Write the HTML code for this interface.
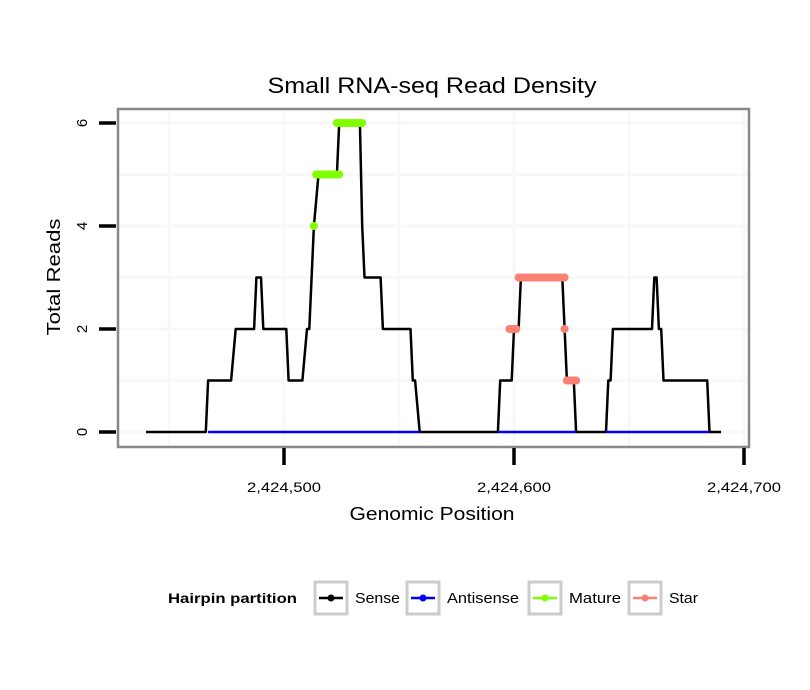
<!DOCTYPE html>
<html><head><meta charset="utf-8"><style>
body{margin:0;background:#fff;}
svg{display:block;font-family:"Liberation Sans",sans-serif;}
</style></head><body>
<svg id="chart" width="810" height="690" viewBox="0 0 810 690">
<rect width="810" height="690" fill="#fff"/>
<text x="432" y="93" text-anchor="middle" font-size="22" textLength="329" lengthAdjust="spacingAndGlyphs">Small RNA-seq Read Density</text>
<g id="grid"></g>
<g id="series"></g>
<rect x="118" y="109" width="631" height="338" fill="none" stroke="#888" stroke-width="2.5"/>
<g id="axes"></g>
<text x="432" y="520" text-anchor="middle" font-size="18" textLength="165" lengthAdjust="spacingAndGlyphs">Genomic Position</text>
<text transform="translate(60,277) rotate(-90)" text-anchor="middle" font-size="18" textLength="117" lengthAdjust="spacingAndGlyphs">Total Reads</text>
<g id="legend">
<text x="168" y="603" font-size="14" font-weight="bold" textLength="129" lengthAdjust="spacingAndGlyphs">Hairpin partition</text>
</g>
</svg>
<script>
const xTicks=[2424500,2424600,2424700];
const xTickLabels=["2,424,500","2,424,600","2,424,700"];
const xMinor=[2424450,2424550,2424650];
const yTicks=[0,2,4,6];
const yMinor=[1,3,5];
const sensePos=[2424440,2424466,2424467,2424477,2424479,2424487,2424488,2424490,2424491,2424501,2424502,2424508,2424510,2424511,2424513,2424515,2424523,2424524,2424533,2424534,2424535,2424542,2424543,2424555,2424556,2424557,2424559,2424593,2424594,2424599,2424600,2424602,2424603,2424621,2424622,2424623,2424626,2424627,2424640,2424641,2424642,2424643,2424660,2424661,2424662,2424663,2424664,2424665,2424684,2424685,2424690];
const senseVal=[0,0,1,1,2,2,3,3,2,2,1,1,2,2,4,5,5,6,6,4,3,3,2,2,1,1,0,0,1,1,2,2,3,3,2,1,1,0,0,1,1,2,2,3,3,2,2,1,1,0,0];
const antisenseStart=[2424467,2424593,2424640];
const antisenseEnd=[2424559,2424627,2424685];
const matureVal=[4,5,6];
const matureStart=[2424513,2424514,2424523];
const matureEnd=[2424513,2424524,2424534];
const starVal=[2,3,2,1];
const starStart=[2424598,2424602,2424622,2424623];
const starEnd=[2424601,2424622,2424622,2424627];
const legendLabels=["Sense","Antisense","Mature","Star"];
const legendColors=["#000","#0000ff","#7fff00","#fa8072"];

const NS="http://www.w3.org/2000/svg";
const X=v=>284+(v-2424500)*2.3;
const Y=v=>432-v*51.5;
function mk(tag,attrs,parent){const e=document.createElementNS(NS,tag);for(const k in attrs)e.setAttribute(k,attrs[k]);parent.appendChild(e);return e;}
const grid=document.getElementById('grid'),series=document.getElementById('series'),axes=document.getElementById('axes'),legend=document.getElementById('legend');
xMinor.concat(xTicks).forEach(v=>{const x=X(v);if(x>118&&x<749){const l=mk('line',{x1:x,x2:x,y1:110,y2:446,stroke:'#f8f8f8','stroke-width':3},grid);

}});
yMinor.concat(yTicks).forEach(v=>{const l=mk('line',{x1:119,x2:748,y1:Y(v),y2:Y(v),stroke:'#f8f8f8','stroke-width':3},grid);

});
let d=sensePos.map((p,i)=>(i?'L':'M')+X(p)+','+Y(senseVal[i])).join('');
const sl=mk('path',{d:d,fill:'none',stroke:'#000','stroke-width':2.5,'stroke-linejoin':'round'},series);


antisenseStart.forEach((s,i)=>{const l=mk('line',{x1:X(s),x2:X(antisenseEnd[i]),y1:Y(0),y2:Y(0),stroke:'#0000ff','stroke-width':2.5},series);

});
function dots(vals,st,en,color,name){vals.forEach((v,i)=>{for(let p=st[i];p<=en[i];p++){const c=mk('circle',{cx:X(p),cy:Y(v),r:4,fill:color},series);

}});}
dots(matureVal,matureStart,matureEnd,'#7fff00','mature-point');
dots(starVal,starStart,starEnd,'#fa8072','star-point');
xTicks.forEach((v,i)=>{const t=mk('line',{x1:X(v),x2:X(v),y1:448,y2:465,stroke:'#000','stroke-width':3.5},axes);


const tx=mk('text',{x:X(v),y:492,'text-anchor':'middle','font-size':14,textLength:74,lengthAdjust:'spacingAndGlyphs'},axes);tx.textContent=xTickLabels[i];

});
yTicks.forEach(v=>{const t=mk('line',{x1:99,x2:116,y1:Y(v),y2:Y(v),stroke:'#000','stroke-width':3.5},axes);


const tx=mk('text',{transform:`translate(87,${Y(v)}) rotate(-90)`,'text-anchor':'middle','font-size':15},axes);tx.textContent=String(v);

});
const boxX=[315,407,529,629];
const labW=[45,72,52,29];
legendLabels.forEach((lab,i)=>{const bx=boxX[i];
const r=mk('rect',{x:bx,y:582,width:32,height:32,fill:'#fff',stroke:'#ccc','stroke-width':3},legend);


mk('line',{x1:bx+4,x2:bx+28,y1:598,y2:598,stroke:legendColors[i],'stroke-width':2.5},legend);
mk('circle',{cx:bx+16,cy:598,r:3.5,fill:legendColors[i]},legend);
const t=mk('text',{x:bx+40,y:603,'font-size':15,textLength:labW[i],lengthAdjust:'spacingAndGlyphs'},legend);t.textContent=lab;

});
</script>
</body></html>
